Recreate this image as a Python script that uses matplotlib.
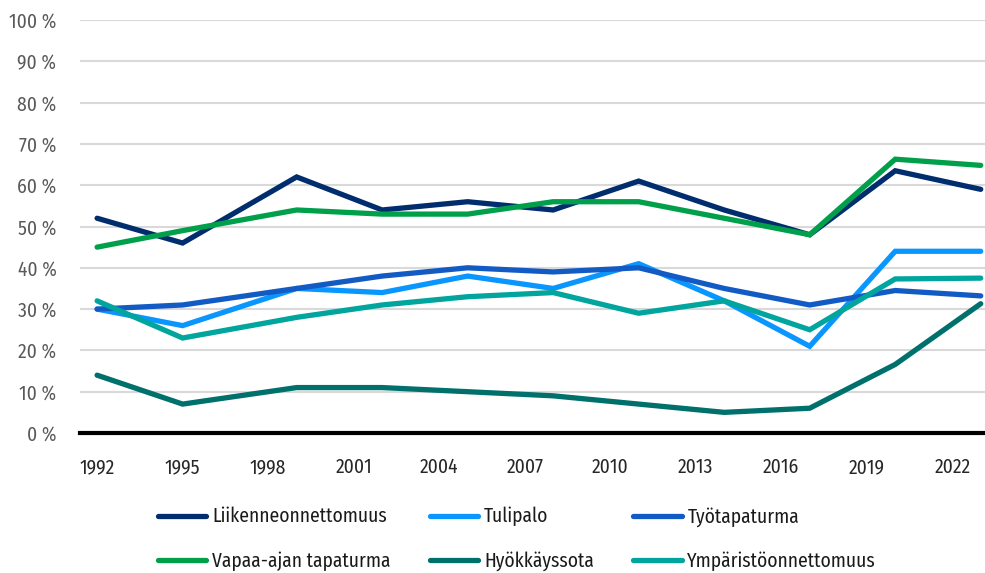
import matplotlib
matplotlib.use("Agg")
import matplotlib.pyplot as plt
from matplotlib import font_manager

names = {f.name for f in font_manager.fontManager.ttflist}
cands = ["Fira Sans Condensed", "PT Sans Narrow", "Roboto Condensed", "Open Sans Condensed",
         "Archivo Narrow", "Asap Condensed", "Encode Sans Condensed", "Liberation Sans Narrow", "Liberation Sans"]
fam = next((c for c in cands if c in names), "DejaVu Sans")

years = [1992, 1995, 1999, 2002, 2005, 2008, 2011, 2014, 2017, 2020, 2023]
liikenne = [52, 46, 62, 54, 56, 54, 61, 54, 48, 63.5, 59]
tulipalo = [30, 26, 35, 34, 38, 35, 41, 32, 21, 44, 44]
tyotapaturma = [30, 31, 35, 38, 40, 39, 40, 35, 31, 34.5, 33.2]
vapaa = [45, 49, 54, 53, 53, 56, 56, 52, 48, 66.3, 64.8]
hyokkays = [14, 7, 11, 11, 10, 9, 7, 5, 6, 16.6, 31.3]
ymparisto = [32, 23, 28, 31, 33, 34, 29, 32, 25, 37.3, 37.5]

series = [
    ("Liikenneonnettomuus", liikenne, "#002D6E"),
    ("Tulipalo", tulipalo, "#0A96FF"),
    ("Työtapaturma", tyotapaturma, "#135BC4"),
    ("Vapaa-ajan tapaturma", vapaa, "#00A04B"),
    ("Hyökkäyssota", hyokkays, "#00706C"),
    ("Ympäristöonnettomuus", ymparisto, "#00A59D"),
]
xticks = [1992, 1995, 1998, 2001, 2004, 2007, 2010, 2013, 2016, 2019, 2022]
yticks = [0, 10, 20, 30, 40, 50, 60, 70, 80, 90, 100]
ylabels = [f"{v} %" for v in yticks]

plt.rcParams['font.family'] = [fam, "DejaVu Sans"]
fig = plt.figure(figsize=(9.85, 5.73), dpi=100)
ax = fig.add_axes([80/985, 1-433/573, 905/985, 413/573])

lines = {}
for name, vals, col in series:
    ln, = ax.plot(years, vals, color=col, lw=3.8, solid_capstyle='round', solid_joinstyle='miter', label=name)
    lines[name] = ln

ax.set_xlim(1991.4, 2023.15)
ax.set_ylim(0, 100)
ax.set_xticks(xticks)
ax.set_xticklabels([str(x) for x in xticks], fontsize=14, color="#262626")
ax.set_yticks(yticks)
ax.set_yticklabels(ylabels, fontsize=14, color="#595959")
ax.tick_params(axis='both', length=0)
ax.tick_params(axis='x', pad=18)
ax.tick_params(axis='y', pad=17)
ax.grid(axis='y', color="#D9D9D9", lw=1.5)
ax.set_axisbelow(True)
for s in ['top', 'right', 'left']:
    ax.spines[s].set_visible(False)
ax.spines['bottom'].set_color('black')
ax.spines['bottom'].set_linewidth(3)
ax.spines['bottom'].set_zorder(5)

order = ["Liikenneonnettomuus", "Vapaa-ajan tapaturma", "Tulipalo", "Hyökkäyssota", "Työtapaturma", "Ympäristöonnettomuus"]
leg = fig.legend([lines[n] for n in order], order, ncol=3, loc='center', bbox_to_anchor=(517/985, 1-539/573),
                 frameon=False, fontsize=14, handlelength=2.5, handletextpad=0.3, columnspacing=2.0,
                 labelspacing=1.27)
for t in leg.get_texts():
    t.set_color("#1a1a1a")

fig.savefig("out.png", dpi=100)
